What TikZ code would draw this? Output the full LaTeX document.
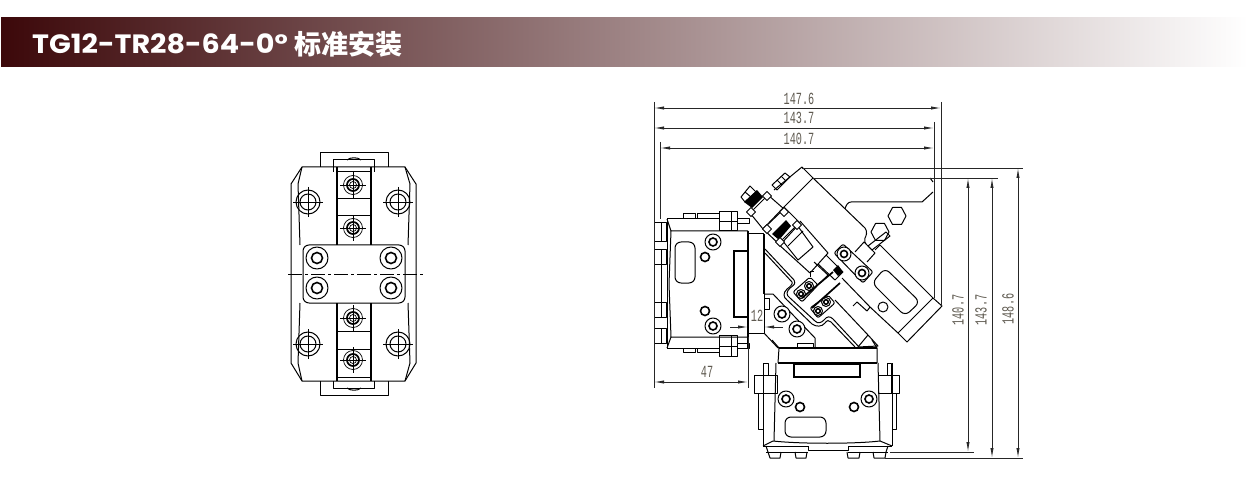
\documentclass[tikz,border=0pt]{standalone}
\usepackage{fontspec}
\setmainfont{Noto Sans CJK SC}
\newfontfamily\dimfont{Liberation Mono}
\newfontfamily\titlefont{Poppins}
\usetikzlibrary{arrows.meta}
\definecolor{bannerdark}{HTML}{3C080A}
\definecolor{dimtext}{HTML}{5F5A50}
\tikzset{
  part/.style={line width=1pt,line join=round},
  bold/.style={line width=1.7pt,line join=miter},
  thin/.style={line width=.7pt},
  dimline/.style={line width=.8pt,color=black!85},
  dimarrow/.style={dimline,{Latex[length=10pt,width=3.2pt]}-{Latex[length=10pt,width=3.2pt]}},
  onearrow/.style={dimline,-{Latex[length=10pt,width=3.2pt]}},
  dimlabel/.style={inner sep=0pt,text=dimtext,font=\dimfont\fontsize{17}{17}\selectfont},
}
\newcommand{\dimtxt}[1]{\scalebox{.6}[1]{#1}}
\newcommand{\crossed}[3]{\begin{scope}[shift={(#1,#2)}]
 \draw[thin] (-#3-3,0)--(#3+3,0) (0,-#3-3)--(0,#3+3);
 \draw[part] (0,0) circle[radius=#3 pt];
 \draw[part] (0,0) circle[radius=#3 pt - 4pt];
\end{scope}}
\newcommand{\chscrew}[2]{\begin{scope}[shift={(#1,#2)}]
 \draw[thin] (-13,0)--(13,0) (0,-13)--(0,13);
 \draw[thin] (0,0) circle[radius=9.5pt];
 \draw[line width=1.7pt] (0,0) circle[radius=6pt];
 \draw[thin] (0,0) circle[radius=3.5pt];
\end{scope}}
\newcommand{\ringscrew}[3]{\begin{scope}[shift={(#1,#2)}]
 \draw[part,fill=white] (0,0) circle[radius=#3 pt];
 \draw[line width=1.6pt] (0,0) circle[radius=#3 pt *0.5];
\end{scope}}
\newcommand{\hole}[2]{\draw[line width=1.6pt] (#1,#2) circle[radius=4.5pt];}
\newcommand{\washer}[2]{\draw[part,fill=white,shift={(#1,#2)}] (-4.5,0)--(0,-4.5)--(4.5,0)--(0,4.5)--cycle;}
\begin{document}
\begin{tikzpicture}[x=1pt,y=-1pt]
\useasboundingbox (0,0) rectangle (1248,481);
% banner
\shade[left color=bannerdark,right color=white] (1,18) rectangle (1248,67);
\node[anchor=west,inner sep=0pt,text=white] (title) at (32,44) {\scalebox{1.08}[1]{\titlefont\bfseries\fontsize{26.5}{26.5}\selectfont TG12-TR28-64-0°}};
\node[anchor=west,inner sep=0pt,text=white,font=\bfseries\fontsize{27}{27}\selectfont] (titlecn) at (294,44) {标准安装};

% ---------- left view
\draw[part] (320,167)--(320,153)--(388,153)--(388,167);
\draw[part] (333,172)--(333,160)--(374,160)--(374,172);
\draw[part] (347,160) .. controls (350,157) and (358,157) .. (361,160);
\draw[part] (302,167)--(405,167)--(416,184)--(416,363)--(405,381)--(302,381)--(291,363)--(291,184)--cycle;
\draw[part] (302,167)--(298,184)--(300,245);
\draw[part] (405,167)--(410,184)--(408,245);
\draw[part] (300,303)--(298,363)--(302,381);
\draw[part] (408,303)--(410,363)--(405,381);
\draw[bold] (337,167)--(337,245) (371,167)--(371,245) (337,303)--(337,381) (371,303)--(371,381);
\draw[part] (337,172)--(371,172) (337,199)--(371,199) (337,216)--(371,216) (337,331)--(371,331) (337,349)--(371,349) (337,377)--(371,377);
\draw[part,rounded corners=6pt] (303,245) rectangle (405,303);
\draw[part] (320,381)--(320,395)--(388,395)--(388,381);
\draw[part] (333,381)--(333,388)--(374,388)--(374,381);
\draw[part] (347,388) .. controls (350,391) and (358,391) .. (361,388);
\crossed{308}{202}{12}\crossed{398}{202}{12}\crossed{308}{344}{12}\crossed{398}{344}{12}
\chscrew{353}{185}\chscrew{353}{228}\chscrew{353}{318}\chscrew{353}{360}
\ringscrew{317}{258}{11}\ringscrew{391}{258}{11}\ringscrew{317}{288}{11}\ringscrew{391}{288}{11}
\coordinate (cl1) at (288,274); \coordinate (cl2) at (423,274);
\draw[thin,dash pattern=on 14pt off 3pt on 3pt off 3pt] (cl1)--(cl2);

% ---------- right view: left unit
\draw[part] (667,219)--(719,219) (667,348)--(719,348);
\draw[part] (683,219)--(683,214)--(695,214)--(695,219) (697,219)--(697,214)--(719,214);
\draw[part] (683,348)--(683,352)--(695,352)--(695,348) (697,348)--(697,352)--(719,352);
\draw[part] (667,219)--(671,231)--(748,231) (667,348)--(671,337)--(748,337);
\draw[part] (667,219)--(667,348);
\draw[part] (671,231)--(669,284)--(671,337);
\draw[part] (719,212) rectangle (737,231);
\draw[part] (719,222)--(737,222) (731,212)--(731,231);
\draw[part] (737,219)--(749,219)--(749,224)--(737,224);
\draw[part] (719,335) rectangle (737,356);
\draw[part] (719,346)--(737,346) (731,335)--(731,356);
\draw[part] (737,343)--(749,343)--(749,348)--(737,348);
\foreach \a/\b in {223/242,250/265,302/317,328/343}{
 \draw[part] (654,\a) rectangle (661,\b);
 \draw[part] (661,\a)--(666,\a)--(666,\b)--(661,\b);
}
\draw[part] (661,265)--(661,302);
\draw[part,rounded corners=6pt] (675,242) rectangle (695,283);
\ringscrew{713}{242}{8}\ringscrew{713}{326}{8}
\hole{705}{257}\hole{705}{311}
\draw[bold] (748,251)--(734,251)--(734,317)--(748,317);
\draw[bold] (748,231)--(748,348);
\draw[part] (748,234)--(764,234);
\draw[part] (748,333)--(764,333);
\draw[bold] (764,234)--(764,294);
\draw[part] (764,294)--(764,333);
% triangular base plate
\draw[part] (764,294)--(773,294)--(815,338)--(815,349);
\draw[part] (764,333)--(778,348);
\draw[part] (764,298) rectangle (769,309);
\ringscrew{782}{314}{8}\ringscrew{797}{329}{8}
\draw[part] (797,348)--(797,343)--(813,343)--(813,348);

% ---------- right view: top housing
\draw[part] (774,190)--(802,167)--(813,178)--(784,207);
\draw[part] (813,178)--(865,228) .. controls (868,232) and (866,236) .. (865,238) .. controls (864,241) and (865,243) .. (866,244);
\draw[part] (845,209) .. controls (846,205) and (848,202) .. (851,202)--(922,202)--(933,192);
\draw[part] (930,178)--(933,182);
\draw[part] (880,245)--(933,298)--(942,306)--(907,342)--(898,333)--(933,298);
\draw[part] (898,333)--(870,307);
% bolts at top
\draw[part] (772,185)--(785,173)--(790,177)--(777,190)--cycle;
\draw[part] (777,180)--(782,185) (781,176)--(786,181);
\draw[part] (750,213)--(768,195)--(784,209)--(763,229)--cycle;
\draw[part] (741,197)--(750,186)--(756,192)--(745,202)--cycle;
\draw[part] (745,192)--(751,197);
\fill (744,202)--(757,190)--(763,197)--(752,208)--cycle;
\washer{767}{196}\washer{751}{212}
% second plate and cylinder
\draw[part] (763,229)--(784,207)--(800,223)--(780,245)--cycle;
\draw[part] (800,221)--(828,253)--(810,273)--(777,243);
\draw[part] (782,240)--(797,225)--(813,247)--(798,260)--cycle;
\draw[part] (788,246)--(803,231);
\fill (772,234)--(786,220)--(791,226)--(779,240)--cycle;
\washer{784}{212}\washer{767}{229}\washer{780}{242}\washer{797}{225}
% double spring edge
\draw[part] (765,249)--(794,280) .. controls (796,284) and (794,285) .. (790,288) .. controls (786,292) and (786,295) .. (790,298)--(815,321) .. controls (818,324) and (821,323) .. (824,320) .. controls (827,316) and (830,316) .. (833,319)--(859,347);
\draw[part] (765,253)--(792,282) .. controls (793,284) and (790,287) .. (787,289) .. controls (783,293) and (783,297) .. (787,300)--(812,324) .. controls (816,327) and (822,327) .. (825,323) .. controls (827,320) and (829,320) .. (831,322)--(855,347);
% clamps
\draw[part,rounded corners=2pt,fill=white] (793,292)--(810,277)--(818,285)--(802,302)--cycle;
\draw[part,rounded corners=2pt,fill=white] (810,308)--(828,295)--(835,303)--(818,318)--cycle;
\ringscrew{801}{294}{4.5}\ringscrew{809}{286}{4.5}\ringscrew{818}{311}{4.5}\ringscrew{826}{302}{4.5}
\draw[bold] (802,298)--(833,272);
\draw[bold] (812,308)--(840,283);
\draw[part] (810,277)--(810,272)--(814,272);
\fill (833,270)--(838,265)--(843,272)--(838,276)--cycle;
\draw[part] (814,262)--(828,275)--(818,285);
\draw[part] (826,255)--(843,272)--(835,280)--(818,264);
\draw[part] (842,278)--(870,307)--(867,311)--(857,302)--(853,306);
% lower cylinder
\draw[part] (835,300)--(868,335)--(878,346)--(858,347);
\draw[part] (868,335)--(858,347);
% upper right clamp
\draw[part,rounded corners=2pt,fill=white] (834,253)--(843,244)--(873,272)--(863,283)--cycle;
\ringscrew{844}{254}{7}\ringscrew{862}{273}{7}
\draw[part] (855,252)--(864,242)--(875,253)--(867,262);
\draw[part] (880,245)--(875,250);
\draw[part] (868,246)--(886,232)--(890,236)--(872,250)--cycle;
\draw[part,shift={(897,216)}] (-4.5,-8.5)--(4.5,-8.5)--(9,0)--(4.5,8.5)--(-4.5,8.5)--(-9,0)--cycle;
\draw[part,shift={(880,232)}] (-4.5,-8.5)--(4.5,-8.5)--(9,0)--(4.5,8.5)--(-4.5,8.5)--(-9,0)--cycle;
\draw[part,rounded corners=6pt] (885,268)--(920,302)--(905,316)--(872,283)--cycle;
\draw[part] (883,307) circle[radius=5pt];

% ---------- right view: bottom unit
\draw[part] (772,340)--(779,348) (872,340)--(877,348);
\draw[bold] (779,348)--(877,348);
\draw[part] (779,348)--(778,363) (877,348)--(877,363);
\draw[bold] (778,363)--(877,363);
\draw[bold] (794,364) rectangle (860,377);
\draw[part] (776,363)--(774,441) (878,363)--(880,441);
\draw[part] (763,363)--(763,446) (892,363)--(892,446);
\draw[part] (773,441) .. controls (800,444) and (855,444) .. (880,441);
\draw[part] (763,446)--(773,441) (880,441)--(892,446);
\draw[part] (763,446)--(808,446) (848,446)--(892,446);
\draw[part] (766,452)--(808,452) (848,452)--(888,452);
\draw[part] (766,446)--(768,452) (888,446)--(886,452);
\draw[part] (808,446)--(808,450)--(848,450)--(848,446);
\draw[part] (768,452)--(770,458)--(780,458)--(781,452);
\draw[part] (795,452)--(796,458)--(806,458)--(807,452);
\draw[part] (847,452)--(848,458)--(859,458)--(860,452);
\draw[part] (873,452)--(874,458)--(885,458)--(886,452);
\ringscrew{786}{399}{8}\ringscrew{869}{399}{8}
\hole{800}{407}\hole{854}{407}
\draw[part,rounded corners=6pt] (785,417) rectangle (826,437);
% side bolts
\draw[part] (754,375) rectangle (777,393);
\draw[part] (763,375)--(763,393);
\draw[part] (763,363) rectangle (768,375);
\draw[part] (758,393)--(758,429)--(763,429);
\draw[part] (878,375) rectangle (899,393);
\draw[part] (891,375)--(891,393);
\draw[part] (887,363) rectangle (891,375);
\draw[part] (896,393)--(896,429)--(892,429);

% ---------- dimensions
\coordinate (a1) at (654,102); \coordinate (a2) at (654,388);
\coordinate (b1) at (941,102); \coordinate (b2) at (941,306);
\coordinate (c1) at (934,122); \coordinate (c2) at (934,298);
\coordinate (d1) at (660,142); \coordinate (d2) at (660,219);
\draw[dimline] (a1)--(a2) (b1)--(b2) (c1)--(c2) (d1)--(d2);
\coordinate (e1) at (654,108); \coordinate (e2) at (941,108);
\coordinate (f1) at (654,128); \coordinate (f2) at (934,128);
\coordinate (g1) at (660,148); \coordinate (g2) at (934,148);
\draw[dimarrow] (e1)--(e2);
\draw[dimarrow] (f1)--(f2);
\draw[dimarrow] (g1)--(g2);
\node[dimlabel] (l147) at (799,99) {\dimtxt{147.6}};
\node[dimlabel] (l143) at (799,118) {\dimtxt{143.7}};
\node[dimlabel] (l140) at (799,139) {\dimtxt{140.7}};
\coordinate (h1) at (802,168); \coordinate (h2) at (1023,168);
\coordinate (i1) at (813,178); \coordinate (i2) at (998,178);
\coordinate (j1) at (890,452); \coordinate (j2) at (974,452);
\coordinate (k1) at (885,458); \coordinate (k2) at (1023,458);
\draw[dimline] (h1)--(h2) (i1)--(i2) (j1)--(j2) (k1)--(k2);
\coordinate (m1) at (968,178); \coordinate (m2) at (968,452);
\coordinate (n1) at (992,178); \coordinate (n2) at (992,458);
\coordinate (o1) at (1018,168); \coordinate (o2) at (1018,458);
\draw[dimarrow] (m1)--(m2);
\draw[dimarrow] (n1)--(n2);
\draw[dimarrow] (o1)--(o2);
\node[dimlabel,rotate=90] (v140) at (958,310) {\dimtxt{140.7}};
\node[dimlabel,rotate=90] (v143) at (981,310) {\dimtxt{143.7}};
\node[dimlabel,rotate=90] (v148) at (1008,309) {\dimtxt{148.6}};
\coordinate (p1) at (654,382); \coordinate (p2) at (748,382);
\draw[dimarrow] (p1)--(p2);
\coordinate (q0) at (748,337); \coordinate (q3) at (748,388);
\draw[dimline] (q0)--(q3);
\node[dimlabel] (l47) at (707,372) {\dimtxt{47}};
\coordinate (r1) at (730,327); \coordinate (r2) at (748,327);
\coordinate (s1) at (783,327); \coordinate (s2) at (764,327);
\draw[onearrow] (r1)--(r2);
\draw[onearrow] (s1)--(s2);
\node[dimlabel] (l12) at (757,316) {\dimtxt{12}};
\end{tikzpicture}
\end{document}
